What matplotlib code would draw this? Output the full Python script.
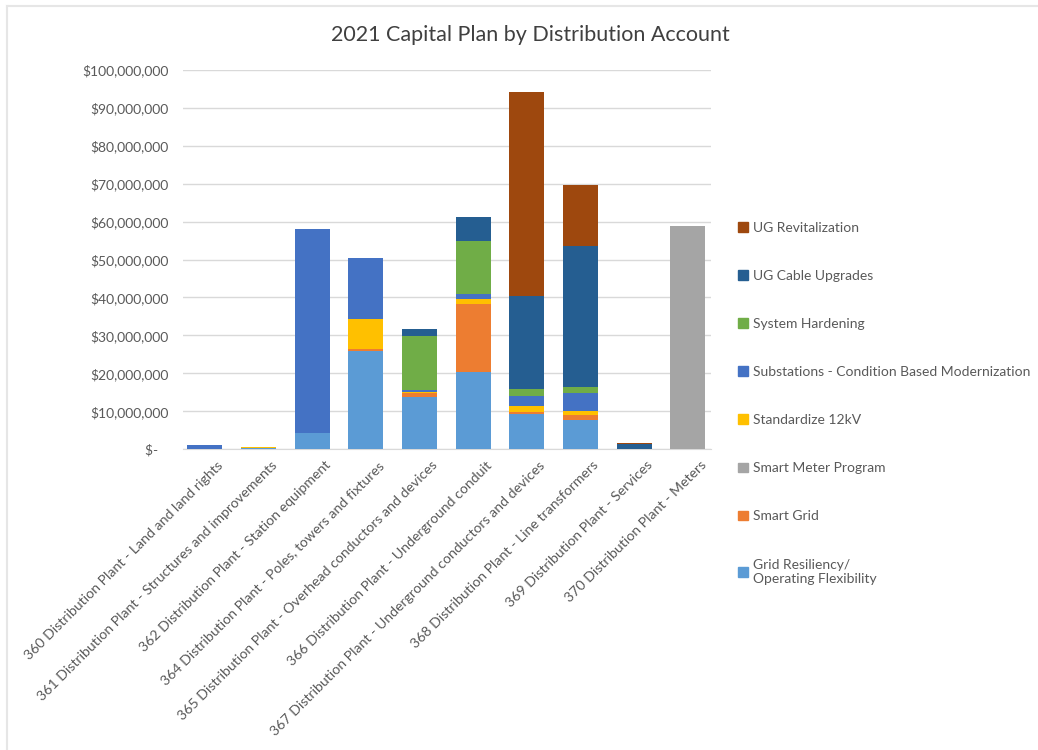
import matplotlib.pyplot as plt
import matplotlib.transforms as mtransforms
import numpy as np
from matplotlib.lines import Line2D
from matplotlib.patches import Patch

plt.rcParams["font.family"] = ["Lato", "DejaVu Sans"]

CATEGORIAS = [
    "360 Distribution Plant - Land and land rights",
    "361 Distribution Plant - Structures and improvements",
    "362 Distribution Plant - Station equipment",
    "364 Distribution Plant - Poles, towers and fixtures",
    "365 Distribution Plant - Overhead conductors and devices",
    "366 Distribution Plant - Underground conduit",
    "367 Distribution Plant - Underground conductors and devices",
    "368 Distribution Plant - Line transformers",
    "369 Distribution Plant - Services",
    "370 Distribution Plant - Meters",
]

# valores em milhões de dólares, por programa (ordem de empilhamento: base -> topo)
grid_resiliency = [0.0, 0.3, 4.4, 25.8, 13.8, 20.4, 9.4, 7.6, 0.0, 0.0]
smart_grid = [0.0, 0.0, 0.0, 0.5, 1.1, 18.0, 0.3, 1.5, 0.0, 0.0]
smart_meter = [0.0, 0.0, 0.0, 0.0, 0.0, 0.0, 0.0, 0.0, 0.0, 58.9]
standardize_12kv = [0.0, 0.3, 0.0, 8.0, 0.2, 1.2, 1.6, 1.1, 0.0, 0.0]
substations = [1.2, 0.1, 53.6, 16.0, 0.5, 1.4, 2.6, 4.5, 0.0, 0.0]
system_hardening = [0.0, 0.0, 0.0, 0.0, 14.2, 13.8, 1.9, 1.8, 0.0, 0.0]
ug_cable = [0.0, 0.0, 0.0, 0.0, 2.0, 6.3, 24.6, 37.1, 1.5, 0.0]
ug_revitalization = [0.0, 0.0, 0.0, 0.0, 0.0, 0.2, 53.7, 16.1, 0.2, 0.0]

SERIES = [
    ("Grid Resiliency/\nOperating Flexibility", grid_resiliency, "#5B9BD5"),
    ("Smart Grid", smart_grid, "#ED7D31"),
    ("Smart Meter Program", smart_meter, "#A5A5A5"),
    ("Standardize 12kV", standardize_12kv, "#FFC000"),
    ("Substations - Condition Based Modernization", substations, "#4472C4"),
    ("System Hardening", system_hardening, "#70AD47"),
    ("UG Cable Upgrades", ug_cable, "#255E91"),
    ("UG Revitalization", ug_revitalization, "#9E480E"),
]

CINZA_TEXTO = "#595959"


def formato_dolar(v, pos=None):
    if v == 0:
        return "$-   "
    return f"${v:,.0f}"


def main():
    fig = plt.figure(figsize=(10.38, 7.5), dpi=100)
    ax = fig.add_axes([0.176, 0.401, 0.509, 0.506])

    x = np.arange(len(CATEGORIAS))
    base = np.zeros(len(CATEGORIAS))
    for nome, vals, cor in SERIES:
        v = np.array(vals) * 1e6
        ax.bar(x, v, bottom=base, width=0.65, color=cor, label=nome, zorder=3)
        base += v

    ax.set_ylim(0, 100e6)
    ax.set_xlim(-0.41, len(CATEGORIAS) - 0.57)
    ax.set_yticks(np.arange(0, 100e6 + 1, 10e6))
    ax.yaxis.set_major_formatter(plt.FuncFormatter(formato_dolar))
    ax.grid(axis="y", color="#D9D9D9", linewidth=1, zorder=0)
    for lado in ["top", "right", "left"]:
        ax.spines[lado].set_visible(False)
    ax.spines["bottom"].set_color("#D9D9D9")
    ax.tick_params(axis="both", length=0, colors=CINZA_TEXTO, labelsize=10)
    ax.tick_params(axis="y", pad=10)

    ax.set_xticks(x)
    ax.set_xticklabels(CATEGORIAS, rotation=45, ha="right", rotation_mode="anchor",
                       fontsize=10.2)
    # desloca os rótulos inclinados um pouco para a direita
    desloc = mtransforms.ScaledTranslation(0.12, -0.05, fig.dpi_scale_trans)
    for rotulo in ax.get_xticklabels():
        rotulo.set_transform(rotulo.get_transform() + desloc)

    fig.text(0.511, 0.953, "2021 Capital Plan by Distribution Account",
             ha="center", va="center", fontsize=15.5, color="#404040")

    handles = [Patch(color=cor) for _, _, cor in SERIES][::-1]
    labels = [nome for nome, _, _ in SERIES][::-1]
    fig.legend(handles, labels, loc="upper left", bbox_to_anchor=(0.699, 0.721),
               frameon=False, fontsize=10, labelcolor=CINZA_TEXTO,
               handlelength=0.7, handleheight=0.7, handletextpad=0.4,
               labelspacing=2.6)

    # moldura clara do gráfico
    fig.add_artist(Line2D([0.007, 1.0], [0.992, 0.992], transform=fig.transFigure,
                          color="#E6E6E6", linewidth=1.5))
    fig.add_artist(Line2D([0.007, 0.007], [0.0, 0.992], transform=fig.transFigure,
                          color="#E6E6E6", linewidth=1.5))

    fig.savefig("out.png", dpi=100)


if __name__ == "__main__":
    main()
